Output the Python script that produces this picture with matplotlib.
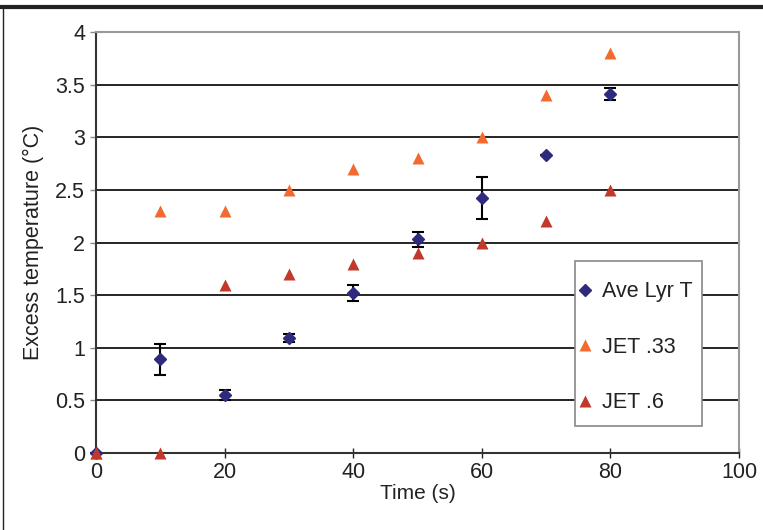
import matplotlib
matplotlib.use("Agg")
import matplotlib.pyplot as plt
from matplotlib.lines import Line2D
from matplotlib.patches import Rectangle

plt.rcParams['font.family'] = ['Liberation Sans', 'DejaVu Sans']

# measured layer temperature (average) with error bars
t_lyr = [0, 10, 20, 30, 40, 50, 60, 70, 80]
lyr_T = [0, 0.89, 0.55, 1.09, 1.52, 2.03, 2.42, 2.83, 3.41]
lyr_err = [0, 0.15, 0.05, 0.04, 0.08, 0.07, 0.2, 0, 0.06]

# JET model predictions
t_jet33 = [0, 10, 20, 30, 40, 50, 60, 70, 80]
jet33 = [0, 2.3, 2.3, 2.5, 2.7, 2.8, 3.0, 3.4, 3.8]
t_jet6 = [0, 10, 20, 30, 40, 50, 60, 70, 80]
jet6 = [0, 0, 1.6, 1.7, 1.8, 1.9, 2.0, 2.2, 2.5]

c_lyr = '#2E2B7F'
c_33 = '#F26A30'
c_6 = '#C0392B'

fig = plt.figure(figsize=(7.63, 5.30), dpi=100)
ax = fig.add_axes([0.126, 0.1453, 0.8425, 0.7943])

for y in [0.5, 1, 1.5, 2, 2.5, 3, 3.5]:
    ax.axhline(y, color='black', lw=1.2, zorder=1)

ax.errorbar(t_lyr, lyr_T, yerr=lyr_err, fmt='D', color=c_lyr, ms=6,
            ecolor='black', elinewidth=1.5, capsize=4, capthick=1.5,
            zorder=3, clip_on=False)
ax.plot(t_jet33, jet33, '^', color=c_33, ms=9, mec='none', zorder=4, clip_on=False)
ax.plot(t_jet6, jet6, '^', color=c_6, ms=9, mec='none', zorder=5, clip_on=False)

ax.set_xlim(0, 100)
ax.set_ylim(0, 4)
ax.set_xticks(range(0, 101, 20))
ax.set_yticks([0, 0.5, 1, 1.5, 2, 2.5, 3, 3.5, 4])
ax.set_yticklabels(['0', '0.5', '1', '1.5', '2', '2.5', '3', '3.5', '4'])
ax.tick_params(axis='both', labelsize=15.5, colors='#222222', width=1)
ax.tick_params(axis='x', length=7, direction='inout', pad=3)
ax.tick_params(axis='y', length=4, direction='out', color='#888888', pad=4)
ax.set_xlabel('Time (s)', fontsize=15, color='#222222', labelpad=1)
ax.set_ylabel('Excess temperature (°C)', fontsize=15.5, color='#222222', labelpad=8)

for s in ['left', 'bottom']:
    ax.spines[s].set_color('#333333')
    ax.spines[s].set_linewidth(1.5)
for s in ['top', 'right']:
    ax.spines[s].set_color('#999999')
    ax.spines[s].set_linewidth(1.5)

# legend box drawn separately so the padding can be narrow on the sides
ax.add_patch(Rectangle((0.745, 0.064), 0.197, 0.392, transform=ax.transAxes,
                       facecolor='white', edgecolor='#888888', lw=1.2, zorder=6))

handles = [
    Line2D([], [], ls='none', marker='D', color=c_lyr, ms=6),
    Line2D([], [], ls='none', marker='^', color=c_33, ms=8.5, mec='none'),
    Line2D([], [], ls='none', marker='^', color=c_6, ms=8.5, mec='none'),
]
leg = ax.legend(handles, ['Ave Lyr T', 'JET .33', 'JET .6'], loc='upper left',
                bbox_to_anchor=(0.751, 0.408), fontsize=15.5, frameon=False,
                handlelength=0.6, handletextpad=0.45, labelspacing=1.6,
                borderpad=0, borderaxespad=0)
leg.set_zorder(7)
for txt in leg.get_texts():
    txt.set_color('#222222')

# outer frame: heavy top rule and thin left rule
fig.add_artist(Line2D([0, 1], [0.986, 0.986], transform=fig.transFigure,
                      color='#222222', lw=3))
fig.add_artist(Line2D([0.004, 0.004], [0, 0.986], transform=fig.transFigure,
                      color='#222222', lw=1))

fig.savefig('out.png', dpi=100)
